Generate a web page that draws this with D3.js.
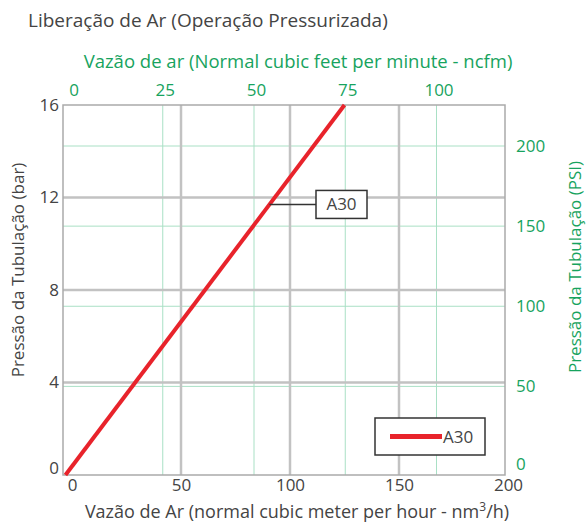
<!DOCTYPE html>
<html>
<head>
<meta charset="utf-8">
<script src="https://cdn.jsdelivr.net/npm/d3@7"></script>
<style>
  body { margin: 0; background: #fff; }
  svg text { font-family: "Open Sans", "Noto Sans", sans-serif; }
</style>
</head>
<body>
<div id="chart"></div>
<script>
// data
var flowNm3h = [-3, 125];       // bottom axis, nm3/h
var pressureBar = [0, 16];      // left axis, bar
var seriesName = "A30";

var barTicks = [0, 4, 8, 12, 16];
var nm3hTicks = [0, 50, 100, 150, 200];
var ncfmTicks = [0, 25, 50, 75, 100];
var psiTicks = [0, 50, 100, 150, 200];

var grey = "#444";
var green = "#17a35e";
var red = "#e8232b";

var svg = d3.select("#chart")
    .append("svg")
    .attr("width", 587)
    .attr("height", 522);

// plot box
var pLeft = 63, pRight = 505, pTop = 105, pBottom = 475;

// scales
var x = d3.scaleLinear().domain([0, 200]).range([72, 508]);
var xTop = d3.scaleLinear().domain([0, 100]).range([71.5, 436.5]);
var y = d3.scaleLinear().domain([0, 16]).range([pBottom, pTop]);
var yR = d3.scaleLinear().domain([0, 200]).range([466.5, 146]);

// title
svg.append("text")
    .attr("x", 28).attr("y", 27)
    .attr("font-size", 19).attr("fill", grey)
    .text("Liberação de Ar (Operação Pressurizada)");

// green grid (ncfm / psi)
svg.selectAll(".gv").data(ncfmTicks.slice(1)).enter()
    .append("line")
    .attr("x1", d => xTop(d)).attr("x2", d => xTop(d))
    .attr("y1", pTop).attr("y2", pBottom)
    .attr("stroke", "#a9e0c5").attr("stroke-width", 1);

svg.selectAll(".gh").data(psiTicks.slice(1)).enter()
    .append("line")
    .attr("x1", pLeft).attr("x2", pRight)
    .attr("y1", d => yR(d)).attr("y2", d => yR(d))
    .attr("stroke", "#a9e0c5").attr("stroke-width", 1);

// grey grid (nm3/h / bar)
svg.selectAll(".xv").data(nm3hTicks.slice(1, -1)).enter()
    .append("line")
    .attr("x1", d => x(d)).attr("x2", d => x(d))
    .attr("y1", pTop).attr("y2", pBottom)
    .attr("stroke", "#c2c2c2").attr("stroke-width", 2.5);

svg.selectAll(".yh").data(barTicks.slice(1, -1)).enter()
    .append("line")
    .attr("x1", pLeft).attr("x2", pRight)
    .attr("y1", d => y(d)).attr("y2", d => y(d))
    .attr("stroke", "#c2c2c2").attr("stroke-width", 2.5);

// frame
svg.append("rect")
    .attr("x", pLeft).attr("y", pTop)
    .attr("width", pRight - pLeft).attr("height", pBottom - pTop)
    .attr("fill", "none").attr("stroke", "#aaa").attr("stroke-width", 1.5);

// axes
function styleAxis(g, color) {
    g.select(".domain").remove();
    g.selectAll("line").remove();
    g.selectAll("text").attr("fill", color).attr("font-size", 17);
}

svg.append("g")
    .attr("transform", "translate(" + pLeft + ",0)")
    .call(d3.axisLeft(y).tickValues(barTicks).tickSize(0).tickPadding(4))
    .call(g => styleAxis(g, grey))
    .selectAll("text").filter(d => d === 0).attr("dy", "-0.1em");

svg.append("g")
    .attr("transform", "translate(0," + pBottom + ")")
    .call(d3.axisBottom(x).tickValues(nm3hTicks).tickSize(0).tickPadding(4))
    .call(g => styleAxis(g, grey));

svg.append("g")
    .attr("transform", "translate(2," + pTop + ")")
    .call(d3.axisTop(xTop).tickValues(ncfmTicks).tickSize(0).tickPadding(9))
    .call(g => styleAxis(g, green));

svg.append("g")
    .attr("transform", "translate(" + pRight + ",0)")
    .call(d3.axisRight(yR).tickValues(psiTicks).tickSize(0).tickPadding(11))
    .call(g => styleAxis(g, green))
    .selectAll("text").filter(d => d === 0).attr("dy", "0.2em");

// axis titles
svg.append("text")
    .attr("x", 298).attr("y", 68)
    .attr("text-anchor", "middle")
    .attr("font-size", 18.5).attr("fill", green)
    .text("Vazão de ar (Normal cubic feet per minute - ncfm)");

var bt = svg.append("text")
    .attr("x", 297).attr("y", 518)
    .attr("text-anchor", "middle")
    .attr("font-size", 18).attr("fill", grey);
bt.append("tspan").text("Vazão de Ar (normal cubic meter per hour - nm");
bt.append("tspan").attr("font-size", 12).attr("dy", -7).text("3");
bt.append("tspan").attr("dy", 7).text("/h)");

svg.append("text")
    .attr("transform", "translate(24,270) rotate(-90)")
    .attr("text-anchor", "middle")
    .attr("font-size", 17).attr("fill", grey)
    .text("Pressão da Tubulação (bar)");

svg.append("text")
    .attr("transform", "translate(581,267) rotate(-90)")
    .attr("text-anchor", "middle")
    .attr("font-size", 17).attr("fill", green)
    .text("Pressão da Tubulação (PSI)");

// series
var pts = flowNm3h.map((f, i) => [f, pressureBar[i]]);
var line = d3.line().x(d => x(d[0])).y(d => y(d[1]));

svg.append("path")
    .datum(pts)
    .attr("d", line)
    .attr("fill", "none")
    .attr("stroke", red)
    .attr("stroke-width", 4);

// callout label on the line
var calloutBar = 11.7;
var calloutX = x(flowNm3h[0]) + (x(flowNm3h[1]) - x(flowNm3h[0])) * calloutBar / pressureBar[1];
svg.append("line")
    .attr("x1", calloutX).attr("x2", 316)
    .attr("y1", y(calloutBar)).attr("y2", y(calloutBar))
    .attr("stroke", "#333").attr("stroke-width", 1.5);
svg.append("rect")
    .attr("x", 316).attr("y", y(calloutBar) - 14)
    .attr("width", 51).attr("height", 28)
    .attr("fill", "#fff").attr("stroke", "#333").attr("stroke-width", 1.5);
svg.append("text")
    .attr("x", 341.5).attr("y", y(calloutBar) + 6)
    .attr("text-anchor", "middle")
    .attr("font-size", 17).attr("fill", grey)
    .text(seriesName);

// legend
var lg = svg.append("g").attr("transform", "translate(375,418)");
lg.append("rect")
    .attr("width", 110).attr("height", 37)
    .attr("fill", "#fff").attr("stroke", "#333").attr("stroke-width", 1.5);
lg.append("line")
    .attr("x1", 15).attr("x2", 67)
    .attr("y1", 18.5).attr("y2", 18.5)
    .attr("stroke", red).attr("stroke-width", 5);
lg.append("text")
    .attr("x", 68).attr("y", 25)
    .attr("font-size", 17).attr("fill", grey)
    .text(seriesName);
</script>
</body>
</html>
